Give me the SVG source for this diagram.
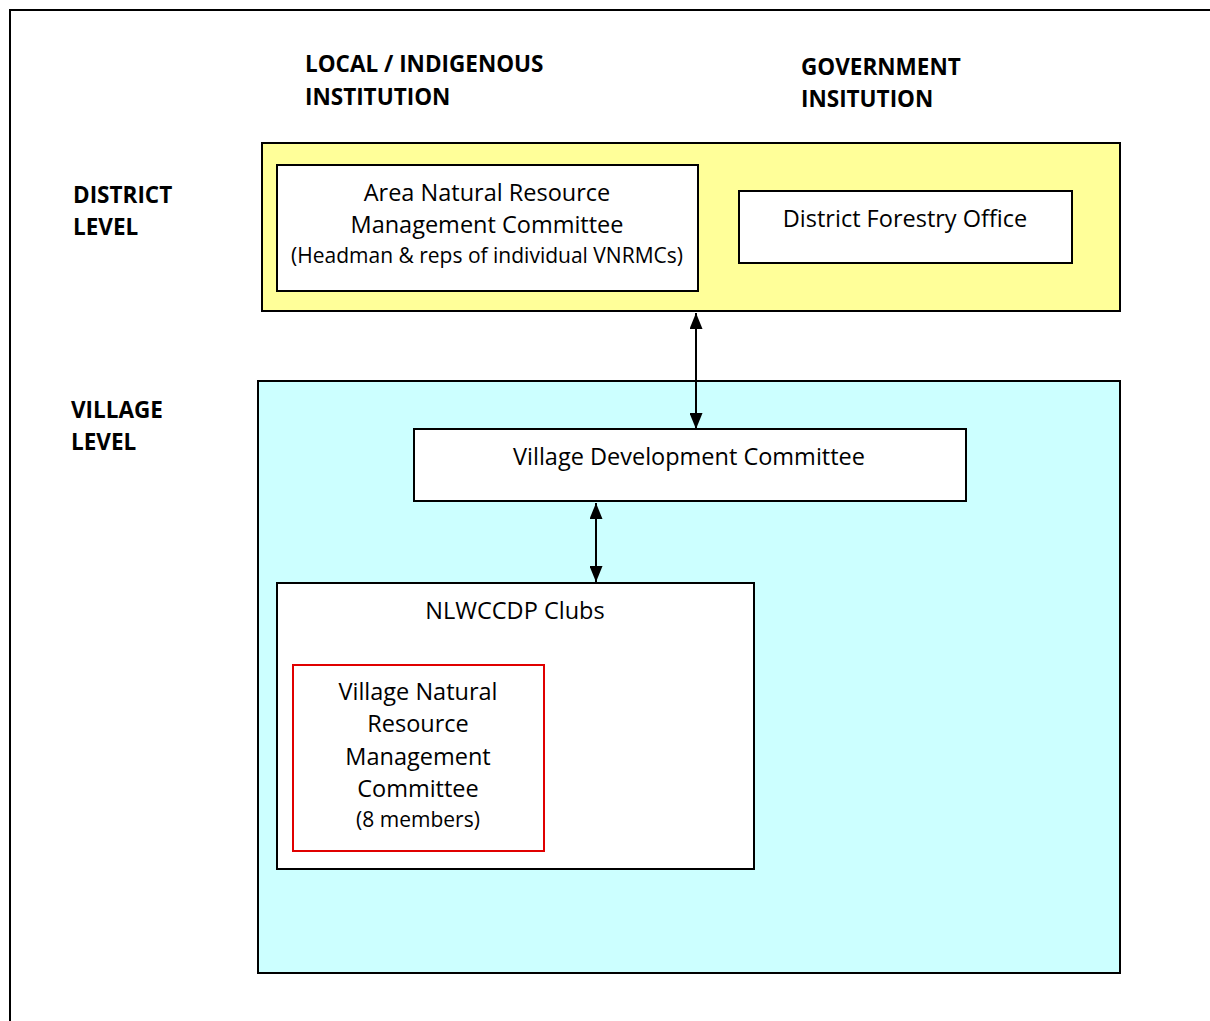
<svg xmlns="http://www.w3.org/2000/svg" width="1210" height="1021" viewBox="0 0 1210 1021">
<defs>
<marker id="ah" markerWidth="16" markerHeight="13" refX="16" refY="6.5" orient="auto-start-reverse" markerUnits="userSpaceOnUse" viewBox="0 0 16 13">
<path d="M0,0 L16,6.5 L0,13 z" fill="#000"/>
</marker>
<style>
text{font-family:"Open Sans","Liberation Sans",sans-serif;fill:#000}
.h{font-weight:bold;font-size:22.5px}
.t{font-size:23.5px;text-anchor:middle}
.s{font-size:21px;text-anchor:middle}
.box{fill:#fff;stroke:#000;stroke-width:2}
.conn{stroke:#000;stroke-width:2;fill:none}
</style>
</defs>
<rect x="0" y="0" width="1210" height="1021" fill="#fff"/>
<path d="M10,1030 L10,10 L1220,10" fill="none" stroke="#000" stroke-width="2"/>
<g id="labels">
<text class="h" x="305" y="72">LOCAL / INDIGENOUS</text>
<text class="h" x="305" y="105">INSTITUTION</text>
<text class="h" x="801" y="75">GOVERNMENT</text>
<text class="h" x="801" y="107">INSITUTION</text>
<text class="h" x="73" y="203">DISTRICT</text>
<text class="h" x="73" y="235">LEVEL</text>
<text class="h" x="71" y="418">VILLAGE</text>
<text class="h" x="71" y="450">LEVEL</text>
</g>
<g id="district-level">
<rect x="262" y="143" width="858" height="168" fill="#ffff99" stroke="#000" stroke-width="2"/>
</g>
<g id="village-level">
<rect x="258" y="381" width="862" height="592" fill="#ccffff" stroke="#000" stroke-width="2"/>
</g>
<g id="anrmc">
<rect class="box" x="277" y="165" width="421" height="126"/>
<text class="t" x="487" y="201">Area Natural Resource</text>
<text class="t" x="487" y="233">Management Committee</text>
<text class="s" x="487" y="263">(Headman &amp; reps of individual VNRMCs)</text>
</g>
<g id="dfo">
<rect class="box" x="739" y="191" width="333" height="72"/>
<text class="t" x="905" y="227">District Forestry Office</text>
</g>
<g id="vdc">
<rect class="box" x="414" y="429" width="552" height="72"/>
<text class="t" x="689" y="465">Village Development Committee</text>
</g>
<g id="clubs">
<rect class="box" x="277" y="583" width="477" height="286"/>
<text class="t" x="515" y="619">NLWCCDP Clubs</text>
</g>
<g id="vnrmc">
<rect x="293" y="665" width="251" height="186" fill="#fff" stroke="#e00000" stroke-width="2"/>
<text class="t" x="418" y="700">Village Natural</text>
<text class="t" x="418" y="732">Resource</text>
<text class="t" x="418" y="765">Management</text>
<text class="t" x="418" y="797">Committee</text>
<text class="s" x="418" y="827">(8 members)</text>
</g>
<g id="connectors">
<line class="conn" x1="696" y1="313" x2="696" y2="429" marker-start="url(#ah)" marker-end="url(#ah)"/>
<line class="conn" x1="596" y1="503" x2="596" y2="582" marker-start="url(#ah)" marker-end="url(#ah)"/>
</g>
</svg>
